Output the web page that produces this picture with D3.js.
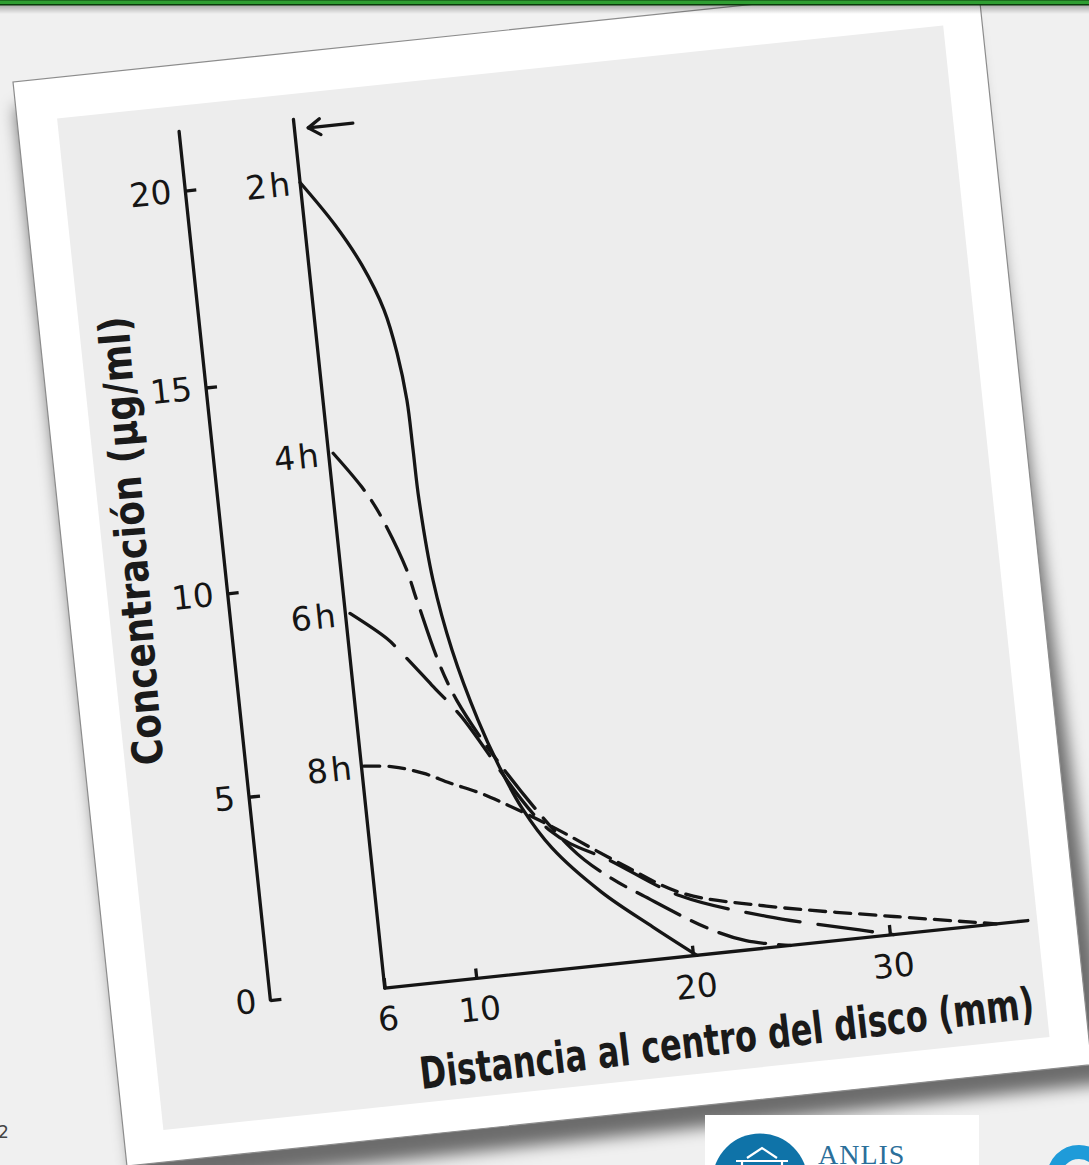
<!DOCTYPE html>
<html>
<head>
<meta charset="utf-8">
<title>Concentración vs distancia al disco</title>
<script src="https://cdn.jsdelivr.net/npm/d3@7"></script>
<style>
  body { margin: 0; background: #f0f0f0; overflow: hidden; }
  .ink { stroke: #151515; stroke-width: 3.3; fill: none; stroke-linecap: round; stroke-linejoin: round; }
  .axis text, .hlabel { font-family: "DejaVu Sans", sans-serif; font-size: 33px; fill: #151515; }
  .axis line { stroke: #151515; stroke-width: 3.3; }
  .title { font-family: "Liberation Sans Narrow", "DejaVu Sans Condensed", Roboto, sans-serif; font-weight: bold; fill: #1a1a1a; }
</style>
</head>
<body>
<svg id="slide"></svg>
<script>
// curves: [distance from disc centre (mm), concentration (ug/ml)]
var hours = ["2h", "4h", "6h", "8h"];

var curve_2h = [[6, 19.9], [7.32, 18.74], [8.3, 17.66], [9.05, 16.48], [9.42, 15.36], [9.63, 14.19],
                [9.67, 12.99], [9.7, 11.77], [9.94, 9.8], [10.47, 8.05], [11.32, 6.28], [12.09, 5.06],
                [12.9, 4.03], [14.08, 2.98], [16.13, 1.78], [18.31, 0.8], [20.2, 0]];

var curve_4h = [[6.2, 13.1], [7.28, 12.22], [7.89, 11.58], [8.85, 10.11], [9.15, 9.35], [10.44, 6.82],
                [14.93, 2.94], [16.67, 2.08], [17.98, 1.6], [20.89, 0.63], [22.74, 0.23], [24.94, 0]];

var curve_6h = [[6.2, 9.2], [7.67, 8.5], [8.26, 8.1], [9.41, 7.25], [10.52, 6.45], [14.07, 3.41],
                [16.75, 2.5], [19.7, 1.49], [23.9, 0.77], [28.5, 0.2], [30.2, 0]];

var curve_8h = [[6.1, 5.45], [7.36, 5.36], [8.63, 5.13], [9.75, 4.82], [11.06, 4.5], [12.06, 4.2],
                [14.1, 3.53], [17.2, 2.4], [19.8, 1.55], [23.95, 1.02], [30.3, 0.44], [35.4, 0]];

var yTicks = [0, 5, 10, 15, 20];
var xTicks = [6, 10, 20, 30];
var yTop = 21.5;                 // both vertical lines run a little past 20
var xEnd = 37;                   // right end of the distance axis
var arrowConc = 21.25, arrowFrom = 8.55, arrowTo = 6.6;

var curves = {"2h": curve_2h, "4h": curve_4h, "6h": curve_6h, "8h": curve_8h};
var dashes = {"2h": null, "4h": "48,13,17,13", "6h": "55,18", "8h": "16,9"};

var svg = d3.select("#slide").attr("width", 1089).attr("height", 1165);

var defs = svg.append("defs");
defs.append("filter").attr("id", "soft")
  .attr("x", "-10%").attr("y", "-10%").attr("width", "120%").attr("height", "120%")
  .append("feGaussianBlur").attr("stdDeviation", 8);
var barShadow = defs.append("linearGradient").attr("id", "barShadow")
  .attr("x1", 0).attr("y1", 0).attr("x2", 0).attr("y2", 1);
barShadow.append("stop").attr("offset", "0%").attr("stop-color", "#000").attr("stop-opacity", 0.3);
barShadow.append("stop").attr("offset", "100%").attr("stop-color", "#000").attr("stop-opacity", 0);

svg.append("rect").attr("width", 1089).attr("height", 1165).attr("fill", "#f0f0f0");

//--------------- the tilted sheet of paper
var paperW = 970, paperH = 1090;
var paper = svg.append("g").attr("transform", "translate(13,82) rotate(-6)");

// shadow: thin at the top, heavier towards the bottom right
paper.append("path")
  .attr("d", "M0,25 L" + (paperW - 12) + ",40 L" + (paperW + 20) + "," + (paperH + 20) + " L6," + (paperH + 24) + "Z")
  .attr("fill", "rgba(0,0,0,0.55)")
  .attr("filter", "url(#soft)");

paper.append("rect")
  .attr("width", paperW).attr("height", paperH)
  .attr("fill", "#fff").attr("stroke", "#8c8c8c").attr("stroke-width", 1.2);

paper.append("rect")
  .attr("x", 40).attr("y", 41).attr("width", 891).attr("height", 1017)
  .attr("fill", "#ededed");

//--------------- scales (polylinear, follows the photographed spacing of the ticks)
var x = d3.scaleLinear().domain([6, 10, 20, 30]).range([275, 367, 585, 783]);
var y = d3.scaleLinear().domain([0, 10, 15, 20]).range([940, 531, 324, 126]);

var chart = paper.append("g");
var axisX = 160;

// concentration axis: ticks pointing right, labels on the left
var yAxis = chart.append("g")
  .attr("class", "axis")
  .attr("transform", "translate(" + axisX + ",0)")
  .call(d3.axisLeft(y).tickValues(yTicks).tickSizeInner(-11).tickSizeOuter(0).tickPadding(14));
yAxis.select(".domain").remove();

chart.append("line").attr("class", "ink")
  .attr("x1", axisX).attr("x2", axisX)
  .attr("y1", y(0)).attr("y2", y(yTop));

// disc edge line at 6 mm
chart.append("line").attr("class", "ink")
  .attr("x1", x(6)).attr("x2", x(6))
  .attr("y1", y(0)).attr("y2", y(yTop));

// distance axis
chart.append("line").attr("class", "ink")
  .attr("x1", x(6)).attr("x2", x(xEnd))
  .attr("y1", y(0)).attr("y2", y(0));

var xAxis = chart.append("g")
  .attr("class", "axis")
  .attr("transform", "translate(0," + y(0) + ")")
  .call(d3.axisBottom(x).tickValues(xTicks).tickSizeInner(-10).tickSizeOuter(0).tickPadding(19).tickFormat(d3.format("d")));
xAxis.select(".domain").remove();

// curves
var line = d3.line()
  .x(function(d) { return x(d[0]); })
  .y(function(d) { return y(d[1]); })
  .curve(d3.curveCatmullRom.alpha(0.5));

hours.forEach(function(h) {
  chart.append("path")
    .datum(curves[h])
    .attr("class", "ink")
    .attr("d", line)
    .attr("stroke-dasharray", dashes[h]);
});

// hour labels at the start of each curve
chart.selectAll(".hlabel")
  .data(hours)
  .join("text")
  .attr("class", "hlabel")
  .attr("x", x(6) - 7)
  .attr("y", function(h) { return y(curves[h][0][1]); })
  .attr("dy", "0.36em")
  .attr("text-anchor", "end")
  .attr("letter-spacing", 3)
  .text(function(h) { return h; });

// arrow at the top of the disc edge
var ay = y(arrowConc);
chart.append("line").attr("class", "ink")
  .attr("x1", x(arrowFrom)).attr("x2", x(arrowTo))
  .attr("y1", ay).attr("y2", ay);
chart.append("path").attr("class", "ink")
  .attr("d", "M" + (x(arrowTo) + 12) + "," + (ay - 8) + "L" + x(arrowTo) + "," + ay + "L" + (x(arrowTo) + 12) + "," + (ay + 8));

// axis titles
chart.append("text")
  .attr("class", "title")
  .attr("transform", "translate(84,469) rotate(-88.5)")
  .attr("text-anchor", "middle")
  .attr("font-size", 42)
  .attr("textLength", 450)
  .attr("lengthAdjust", "spacingAndGlyphs")
  .text("Concentración (µg/ml)");

chart.append("text")
  .attr("class", "title")
  .attr("transform", "translate(610,1041) rotate(-0.6)")
  .attr("text-anchor", "middle")
  .attr("font-size", 44)
  .attr("textLength", 618)
  .attr("lengthAdjust", "spacingAndGlyphs")
  .text("Distancia al centro del disco (mm)");

//--------------- slide decoration
var logo = svg.append("g");
logo.append("rect").attr("x", 705).attr("y", 1115).attr("width", 274).attr("height", 60).attr("fill", "#fff");
logo.append("circle").attr("cx", 760).attr("cy", 1181).attr("r", 47.5).attr("fill", "#0f73a8");
logo.append("path")
  .attr("d", "M747,1158 L762,1148 L777,1158 M736,1161 H788 M742,1161 V1168 M782,1161 V1168")
  .attr("fill", "none").attr("stroke", "#fff").attr("stroke-width", 2.2);
logo.append("text")
  .attr("x", 818).attr("y", 1164)
  .attr("font-family", "Liberation Serif, serif")
  .attr("font-size", 28)
  .attr("letter-spacing", 1)
  .attr("fill", "#2b6f9a")
  .text("ANLIS");

svg.append("circle")
  .attr("cx", 1079).attr("cy", 1177).attr("r", 25)
  .attr("fill", "none").attr("stroke", "#1f9bd9").attr("stroke-width", 14);

svg.append("text")
  .attr("x", -2).attr("y", 1138)
  .attr("font-family", "DejaVu Sans, sans-serif")
  .attr("font-size", 17)
  .attr("fill", "#444")
  .text("2");

// green bar across the top
svg.append("rect").attr("y", 5).attr("width", 1089).attr("height", 9).attr("fill", "url(#barShadow)");
svg.append("rect").attr("width", 1089).attr("height", 5).attr("fill", "#2f9e32");
svg.append("rect").attr("width", 1089).attr("height", 1).attr("fill", "#1d6b1f");
svg.append("rect").attr("y", 4).attr("width", 1089).attr("height", 1.5).attr("fill", "#0a3a0b");
</script>
</body>
</html>
